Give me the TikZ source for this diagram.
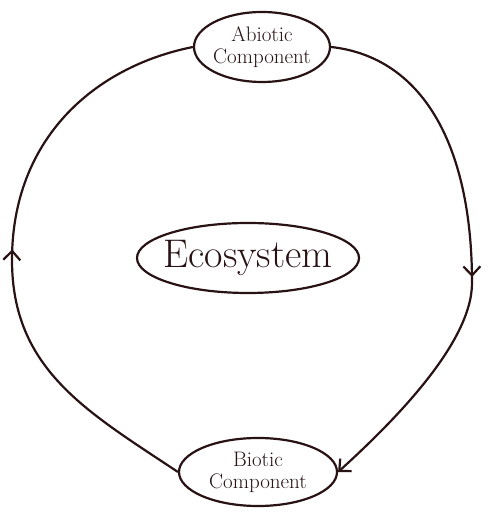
\documentclass[tikz,border=0pt]{standalone}
\usepackage{tikz}
\usetikzlibrary{shapes.geometric, arrows.meta, decorations.markings}
\definecolor{EcoInk}{RGB}{40, 18, 20}

\begin{document}
\begin{tikzpicture}[x=1pt, y=1pt, color=EcoInk, line width=2.2pt,
    compbox/.style={ellipse, draw, inner ysep=-2pt, inner xsep=-20pt, align=center,
      font=\fontsize{21}{22}\selectfont},
    cycleline/.style={postaction={decorate}, decoration={markings,
      mark=at position #1 with {\arrow{Straight Barb[length=9pt,width=17pt]}}}}]
    \useasboundingbox (0,0) rectangle (488,518);

    % the three parts
    \node[compbox, minimum width=136pt, minimum height=70pt] (abiotic) at (262,471) {Abiotic\\Component};
    \node[compbox, minimum width=222pt, minimum height=70pt, inner xsep=-30pt,
          font=\fontsize{40}{40}\selectfont] (ecosystem) at (248,260) {Ecosystem};
    \node[compbox, minimum width=158pt, minimum height=68pt] (biotic) at (258,46) {Biotic\\Component};

    % the cycle
    \draw[cycleline=0.55, -{Straight Barb[length=9pt,width=17pt]}] (abiotic.east)
      .. controls +(90,-10) and +(0,140) .. (472,235)
      .. controls +(0,-60) and +(55,50) .. (biotic.east);
    \draw[cycleline=0.5] (biotic.west)
      .. controls +(-90,60) and +(0,-110) .. (12,258)
      .. controls +(0,120) and +(-100,-20) .. (abiotic.west);
\end{tikzpicture}
\end{document}
